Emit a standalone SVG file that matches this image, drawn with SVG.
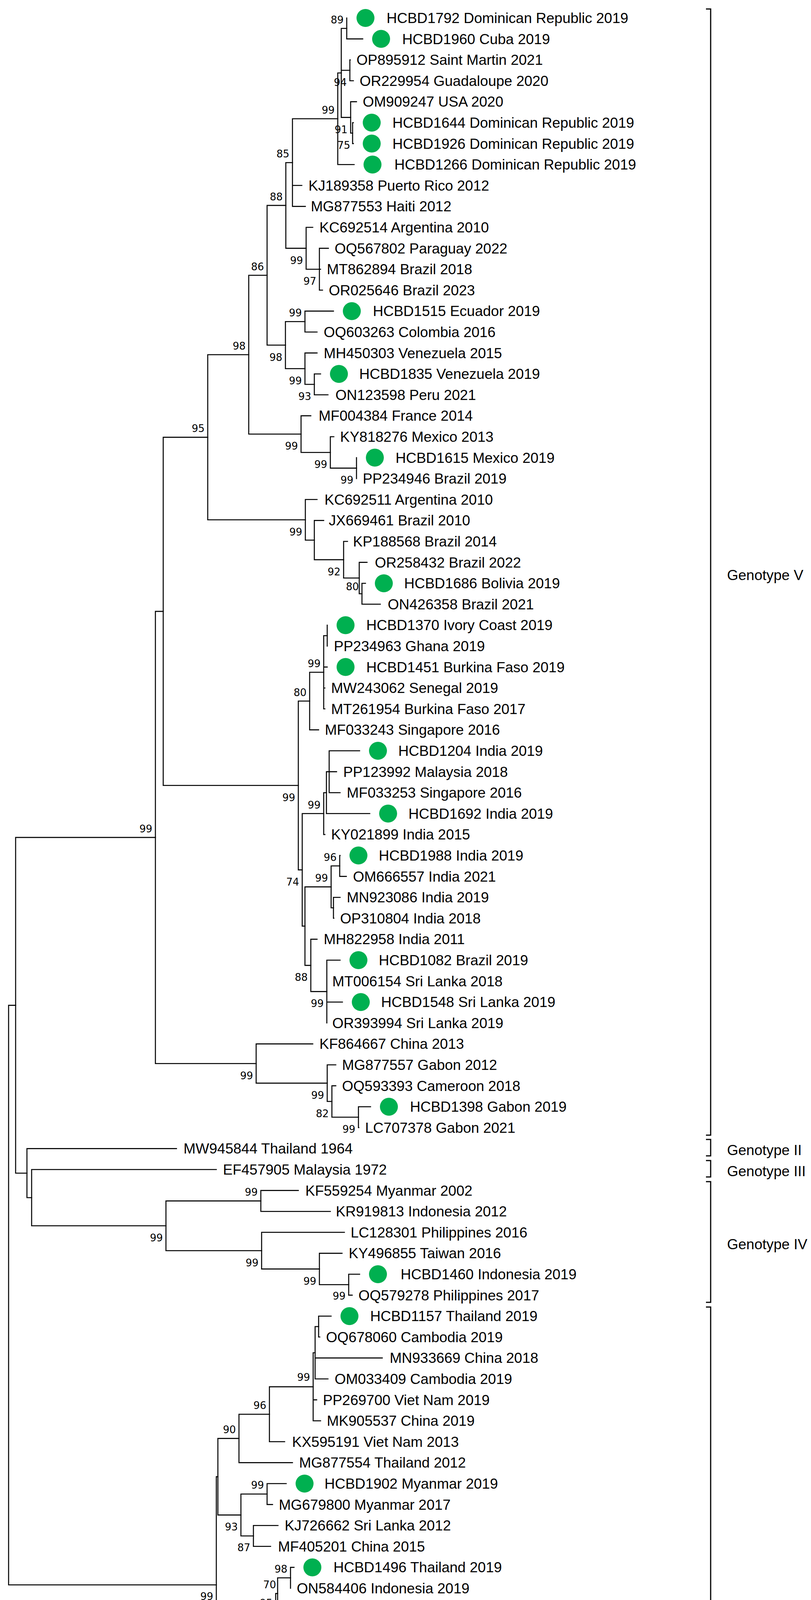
<svg xmlns="http://www.w3.org/2000/svg" width="2077" height="5150" viewBox="0 0 2077 5150">
<style>
.br{fill:none;stroke:#000;stroke-width:2.6;stroke-linecap:square}
.tl{font-family:"Liberation Sans",Arial,sans-serif;font-size:37px;fill:#000}
.bs{font-family:"DejaVu Sans",Verdana,sans-serif;font-size:26px;fill:#000;text-anchor:end}
.dot{fill:#00B050}
.bk{fill:none;stroke:#000;stroke-width:3}
</style>
<rect width="2077" height="5150" fill="#fff"/>
<g id="connectors" class="br">
<path d="M22 2573.6V4057.2M22 2573.6H40M22 4057.2H554"/>
<path d="M40 2143.9V3003.2M40 2143.9H398M40 3003.2H69"/>
<path d="M69 2940.4V3066M69 2940.4H452M69 3066H81"/>
<path d="M81 2994V3138M81 2994H554M81 3138H425"/>
<path d="M425 3074.4V3201.7M425 3074.4H668M425 3201.7H670"/>
<path d="M668 3047.6V3101.2M668 3047.6H764M668 3101.2H846"/>
<path d="M670 3154.8V3248.6M670 3154.8H882M670 3248.6H818"/>
<path d="M818 3208.4V3288.8M818 3208.4H876M818 3288.8H893"/>
<path d="M893 3262V3315.6M893 3262H921M893 3315.6H902"/>
<path d="M398 1565.1V2722.7M398 1565.1H418M398 2722.7H656"/>
<path d="M418 1119.4V2010.8M418 1119.4H532M418 2010.8H764"/>
<path d="M532 908V1330.7M532 908H637M532 1330.7H782"/>
<path d="M637 704.7V1111.3M637 704.7H684M637 1111.3H771"/>
<path d="M684 525.9V883.5M684 525.9H732M684 883.5H731"/>
<path d="M732 416.2V635.6M732 416.2H749M732 635.6H784"/>
<path d="M749 304V528.4M749 304H865M749 474.8H773M749 528.4H782"/>
<path d="M865 186.7V421.2M865 186.7H874M865 421.2H907"/>
<path d="M874 72.8V300.6M874 72.8H888M874 180H896M874 300.6H898"/>
<path d="M888 46V99.6M888 99.6H929"/>
<path d="M896 153.2V206.8M896 153.2H897M896 206.8H905"/>
<path d="M898 260.4V340.8M898 260.4H913M898 340.8H903"/>
<path d="M903 314V367.6M903 314H905M903 367.6H905"/>
<path d="M784 582V689.2M784 582H801M784 689.2H818"/>
<path d="M818 635.6V742.8M818 635.6H841M818 689.2H821M818 742.8H826"/>
<path d="M731 823.2V943.8M731 823.2H781M731 943.8H781"/>
<path d="M781 796.4V850M781 796.4H854M781 850H812"/>
<path d="M781 903.6V984M781 903.6H812M781 984H805"/>
<path d="M805 957.2V1010.8M805 957.2H821M805 1010.8H840"/>
<path d="M771 1064.4V1158.2M771 1064.4H796M771 1158.2H846"/>
<path d="M846 1118V1198.4M846 1118H855M846 1198.4H913"/>
<path d="M913 1171.6V1225.2"/>
<path d="M782 1278.8V1382.7M782 1278.8H812M782 1382.7H805"/>
<path d="M805 1332.4V1432.9M805 1332.4H829M805 1432.9H880"/>
<path d="M880 1386V1479.8M880 1386H890M880 1479.8H920"/>
<path d="M920 1439.6V1520M920 1439.6H940M920 1520H927"/>
<path d="M927 1493.2V1546.8M927 1493.2H936M927 1546.8H974"/>
<path d="M764 1794.7V2226.9M764 1794.7H793M764 2226.9H774"/>
<path d="M793 1721V1868.4M793 1721H829M793 1868.4H816"/>
<path d="M829 1627.2V1814.8M829 1627.2H838M829 1707.6H838M829 1761.2H832M829 1814.8H832"/>
<path d="M838 1600.4V1654"/>
<path d="M774 2082.8V2370.9M774 2082.8H829M774 2370.9H781"/>
<path d="M829 2029.2V2136.4M829 2029.2H836M829 2136.4H832"/>
<path d="M836 1975.6V2082.8M836 1975.6H843M836 2082.8H947"/>
<path d="M843 1922V2029.2M843 1922H921M843 1975.6H862M843 2029.2H871"/>
<path d="M781 2270.4V2471.4M781 2270.4H848M781 2471.4H796"/>
<path d="M848 2216.8V2324M848 2216.8H870M848 2324H854"/>
<path d="M870 2190V2243.6M870 2190H871M870 2243.6H887"/>
<path d="M854 2297.2V2350.8M854 2297.2H871M854 2350.8H855"/>
<path d="M796 2404.4V2538.4M796 2404.4H812M796 2538.4H837"/>
<path d="M837 2458V2618.8M837 2458H871M837 2565.2H877"/>
<path d="M656 2672.4V2772.9M656 2672.4H801M656 2772.9H838"/>
<path d="M838 2726V2819.8M838 2726H860M838 2819.8H850"/>
<path d="M850 2779.6V2860M850 2779.6H860M850 2860H918"/>
<path d="M918 2833.2V2886.8M918 2833.2H949M918 2886.8H919"/>
<path d="M554 3780.4V4334M554 3780.4H558M554 4334H676"/>
<path d="M558 3682.4V3878.4M558 3682.4H612M558 3878.4H617"/>
<path d="M612 3620.5V3744.4M612 3620.5H690M612 3744.4H749"/>
<path d="M690 3550.1V3690.8M690 3550.1H802M690 3690.8H729"/>
<path d="M802 3463V3637.2M802 3463H807M802 3583.6H811M802 3637.2H821"/>
<path d="M807 3396V3530M807 3396H816M807 3476.4H979M807 3530H840"/>
<path d="M816 3369.2V3422.8M816 3369.2H848M816 3422.8H819"/>
<path d="M617 3824.8V3932M617 3824.8H684M617 3932H649"/>
<path d="M684 3798V3851.6M684 3798H733M684 3851.6H698"/>
<path d="M649 3905.2V3958.8M649 3905.2H712M649 3958.8H693"/>
<path d="M676 4126.3V4541.7M676 4126.3H706M676 4541.7H718"/>
<path d="M706 4079.4V4173.2M706 4079.4H711M706 4173.2H715"/>
<path d="M711 4039.2V4119.6M711 4039.2H744M711 4119.6H729"/>
<path d="M744 4012.4V4066M744 4012.4H753"/>
<path d="M718 4394.3V4689.1M718 4394.3H727M718 4689.1H732"/>
<path d="M727 4293.8V4494.8M727 4293.8H732M727 4387.6H775M727 4494.8H744"/>
<path d="M732 4253.6V4334M732 4253.6H765M732 4334H733"/>
<path d="M765 4226.8V4280.4M765 4226.8H780M765 4280.4H780"/>
<path d="M732 4548.4V4829.8M732 4548.4H742M732 4602H733M732 4682.4H764M732 4829.8H793"/>
<path d="M764 4655.6V4709.2M764 4655.6H766M764 4709.2H782"/>
<path d="M793 4762.8V4896.8M793 4762.8H816M793 4816.4H798M793 4896.8H797"/>
<path d="M797 4870V4923.6M797 4870H798M797 4923.6H799"/>
</g>
<g id="tips">
<g id="t0"><circle class="dot" cx="936" cy="46" r="23"/><text class="tl" x="990" y="59">HCBD1792 Dominican Republic 2019</text></g>
<g id="t1"><circle class="dot" cx="976" cy="99.6" r="23"/><text class="tl" x="1030" y="112.6">HCBD1960 Cuba 2019</text></g>
<g id="t2"><text class="tl" x="913" y="166.2">OP895912 Saint Martin 2021</text></g>
<g id="t3"><text class="tl" x="921" y="219.8">OR229954 Guadaloupe 2020</text></g>
<g id="t4"><text class="tl" x="929" y="273.4">OM909247 USA 2020</text></g>
<g id="t5"><circle class="dot" cx="952" cy="314" r="23"/><text class="tl" x="1005" y="327">HCBD1644 Dominican Republic 2019</text></g>
<g id="t6"><circle class="dot" cx="952" cy="367.6" r="23"/><text class="tl" x="1005" y="380.6">HCBD1926 Dominican Republic 2019</text></g>
<g id="t7"><circle class="dot" cx="954" cy="421.2" r="23"/><text class="tl" x="1010" y="434.2">HCBD1266 Dominican Republic 2019</text></g>
<g id="t8"><text class="tl" x="790" y="487.8">KJ189358 Puerto Rico 2012</text></g>
<g id="t9"><text class="tl" x="796" y="541.4">MG877553 Haiti 2012</text></g>
<g id="t10"><text class="tl" x="818" y="595">KC692514 Argentina 2010</text></g>
<g id="t11"><text class="tl" x="857" y="648.6">OQ567802 Paraguay 2022</text></g>
<g id="t12"><text class="tl" x="837" y="702.2">MT862894 Brazil 2018</text></g>
<g id="t13"><text class="tl" x="842" y="755.8">OR025646 Brazil 2023</text></g>
<g id="t14"><circle class="dot" cx="901" cy="796.4" r="23"/><text class="tl" x="955" y="809.4">HCBD1515 Ecuador 2019</text></g>
<g id="t15"><text class="tl" x="829" y="863">OQ603263 Colombia 2016</text></g>
<g id="t16"><text class="tl" x="829" y="916.6">MH450303 Venezuela 2015</text></g>
<g id="t17"><circle class="dot" cx="868" cy="957.2" r="23"/><text class="tl" x="920" y="970.2">HCBD1835 Venezuela 2019</text></g>
<g id="t18"><text class="tl" x="859" y="1023.8">ON123598 Peru 2021</text></g>
<g id="t19"><text class="tl" x="816" y="1077.4">MF004384 France 2014</text></g>
<g id="t20"><text class="tl" x="871" y="1131">KY818276 Mexico 2013</text></g>
<g id="t21"><circle class="dot" cx="960" cy="1171.6" r="23"/><text class="tl" x="1013" y="1184.6">HCBD1615 Mexico 2019</text></g>
<g id="t22"><text class="tl" x="929" y="1238.2">PP234946 Brazil 2019</text></g>
<g id="t23"><text class="tl" x="831" y="1291.8">KC692511 Argentina 2010</text></g>
<g id="t24"><text class="tl" x="842" y="1345.4">JX669461 Brazil 2010</text></g>
<g id="t25"><text class="tl" x="904" y="1399">KP188568 Brazil 2014</text></g>
<g id="t26"><text class="tl" x="960" y="1452.6">OR258432 Brazil 2022</text></g>
<g id="t27"><circle class="dot" cx="983" cy="1493.2" r="23"/><text class="tl" x="1035" y="1506.2">HCBD1686 Bolivia 2019</text></g>
<g id="t28"><text class="tl" x="993" y="1559.8">ON426358 Brazil 2021</text></g>
<g id="t29"><circle class="dot" cx="885" cy="1600.4" r="23"/><text class="tl" x="938" y="1613.4">HCBD1370 Ivory Coast 2019</text></g>
<g id="t30"><text class="tl" x="855" y="1667">PP234963 Ghana 2019</text></g>
<g id="t31"><circle class="dot" cx="885" cy="1707.6" r="23"/><text class="tl" x="938" y="1720.6">HCBD1451 Burkina Faso 2019</text></g>
<g id="t32"><text class="tl" x="848" y="1774.2">MW243062 Senegal 2019</text></g>
<g id="t33"><text class="tl" x="848" y="1827.8">MT261954 Burkina Faso 2017</text></g>
<g id="t34"><text class="tl" x="832" y="1881.4">MF033243 Singapore 2016</text></g>
<g id="t35"><circle class="dot" cx="968" cy="1922" r="23"/><text class="tl" x="1020" y="1935">HCBD1204 India 2019</text></g>
<g id="t36"><text class="tl" x="879" y="1988.6">PP123992 Malaysia 2018</text></g>
<g id="t37"><text class="tl" x="888" y="2042.2">MF033253 Singapore 2016</text></g>
<g id="t38"><circle class="dot" cx="994" cy="2082.8" r="23"/><text class="tl" x="1046" y="2095.8">HCBD1692 India 2019</text></g>
<g id="t39"><text class="tl" x="848" y="2149.4">KY021899 India 2015</text></g>
<g id="t40"><circle class="dot" cx="918" cy="2190" r="23"/><text class="tl" x="970" y="2203">HCBD1988 India 2019</text></g>
<g id="t41"><text class="tl" x="904" y="2256.6">OM666557 India 2021</text></g>
<g id="t42"><text class="tl" x="888" y="2310.2">MN923086 India 2019</text></g>
<g id="t43"><text class="tl" x="871" y="2363.8">OP310804 India 2018</text></g>
<g id="t44"><text class="tl" x="829" y="2417.4">MH822958 India 2011</text></g>
<g id="t45"><circle class="dot" cx="918" cy="2458" r="23"/><text class="tl" x="970" y="2471">HCBD1082 Brazil 2019</text></g>
<g id="t46"><text class="tl" x="851" y="2524.6">MT006154 Sri Lanka 2018</text></g>
<g id="t47"><circle class="dot" cx="924" cy="2565.2" r="23"/><text class="tl" x="976" y="2578.2">HCBD1548 Sri Lanka 2019</text></g>
<g id="t48"><text class="tl" x="851" y="2631.8">OR393994 Sri Lanka 2019</text></g>
<g id="t49"><text class="tl" x="818" y="2685.4">KF864667 China 2013</text></g>
<g id="t50"><text class="tl" x="876" y="2739">MG877557 Gabon 2012</text></g>
<g id="t51"><text class="tl" x="876" y="2792.6">OQ593393 Cameroon 2018</text></g>
<g id="t52"><circle class="dot" cx="996" cy="2833.2" r="23"/><text class="tl" x="1050" y="2846.2">HCBD1398 Gabon 2019</text></g>
<g id="t53"><text class="tl" x="935" y="2899.8">LC707378 Gabon 2021</text></g>
<g id="t54"><text class="tl" x="470" y="2953.4">MW945844 Thailand 1964</text></g>
<g id="t55"><text class="tl" x="571" y="3007">EF457905 Malaysia 1972</text></g>
<g id="t56"><text class="tl" x="782" y="3060.6">KF559254 Myanmar 2002</text></g>
<g id="t57"><text class="tl" x="860" y="3114.2">KR919813 Indonesia 2012</text></g>
<g id="t58"><text class="tl" x="898" y="3167.8">LC128301 Philippines 2016</text></g>
<g id="t59"><text class="tl" x="893" y="3221.4">KY496855 Taiwan 2016</text></g>
<g id="t60"><circle class="dot" cx="968" cy="3262" r="23"/><text class="tl" x="1026" y="3275">HCBD1460 Indonesia 2019</text></g>
<g id="t61"><text class="tl" x="918" y="3328.6">OQ579278 Philippines 2017</text></g>
<g id="t62"><circle class="dot" cx="895" cy="3369.2" r="23"/><text class="tl" x="948" y="3382.2">HCBD1157 Thailand 2019</text></g>
<g id="t63"><text class="tl" x="835" y="3435.8">OQ678060 Cambodia 2019</text></g>
<g id="t64"><text class="tl" x="998" y="3489.4">MN933669 China 2018</text></g>
<g id="t65"><text class="tl" x="857" y="3543">OM033409 Cambodia 2019</text></g>
<g id="t66"><text class="tl" x="827" y="3596.6">PP269700 Viet Nam 2019</text></g>
<g id="t67"><text class="tl" x="837" y="3650.2">MK905537 China 2019</text></g>
<g id="t68"><text class="tl" x="748" y="3703.8">KX595191 Viet Nam 2013</text></g>
<g id="t69"><text class="tl" x="766" y="3757.4">MG877554 Thailand 2012</text></g>
<g id="t70"><circle class="dot" cx="780" cy="3798" r="23"/><text class="tl" x="831" y="3811">HCBD1902 Myanmar 2019</text></g>
<g id="t71"><text class="tl" x="714" y="3864.6">MG679800 Myanmar 2017</text></g>
<g id="t72"><text class="tl" x="729" y="3918.2">KJ726662 Sri Lanka 2012</text></g>
<g id="t73"><text class="tl" x="712" y="3971.8">MF405201 China 2015</text></g>
<g id="t74"><circle class="dot" cx="800" cy="4012.4" r="23"/><text class="tl" x="854" y="4025.4">HCBD1496 Thailand 2019</text></g>
<g id="t75"><text class="tl" x="760" y="4079">ON584406 Indonesia 2019</text></g>
<g id="t76"><text class="tl" x="745" y="4132.6">MF033260 Singapore 2016</text></g>
<g id="t77"><text class="tl" x="729" y="4186.2">MN886842 China 2017</text></g>
<g id="t78"><circle class="dot" cx="827" cy="4226.8" r="23"/><text class="tl" x="881" y="4239.8">HCBD1531 Thailand 2019</text></g>
<g id="t79"><circle class="dot" cx="827" cy="4280.4" r="23"/><text class="tl" x="881" y="4293.4">HCBD1539 Thailand 2019</text></g>
<g id="t80"><text class="tl" x="749" y="4347">MN955650 Thailand 2018</text></g>
<g id="t81"><circle class="dot" cx="822" cy="4387.6" r="23"/><text class="tl" x="876" y="4400.6">HCBD1561 SEAR+WPR 2019</text></g>
<g id="t82"><text class="tl" x="742" y="4454.2">MN894251 China 2019</text></g>
<g id="t83"><text class="tl" x="760" y="4507.8">PP124007 Malaysia 2019</text></g>
<g id="t84"><text class="tl" x="759" y="4561.4">MW559402 Laos 2019</text></g>
<g id="t85"><text class="tl" x="749" y="4615">PP123935 Malaysia 2016</text></g>
<g id="t86"><text class="tl" x="782" y="4668.6">MZ619037 Thailand 2019</text></g>
<g id="t87"><text class="tl" x="798" y="4722.2">OL411495 Cambodia 2020</text></g>
<g id="t88"><text class="tl" x="832" y="4775.8">MN921435 China 2019</text></g>
<g id="t89"><circle class="dot" cx="845" cy="4816.4" r="23"/><text class="tl" x="899" y="4829.4">HCBD1940 Thailand 2019</text></g>
<g id="t90"><circle class="dot" cx="845" cy="4870" r="23"/><text class="tl" x="899" y="4883">HCBD1111 Thailand 2019</text></g>
<g id="t91"><text class="tl" x="815" y="4936.6">PP234957 Thailand 2019</text></g>
</g>
<g id="bootstrap" class="bs">
<text x="880" y="60">89</text>
<text x="888" y="220">94</text>
<text x="857" y="291">99</text>
<text x="890" y="341">91</text>
<text x="897" y="381">75</text>
<text x="741" y="403">85</text>
<text x="724" y="513">88</text>
<text x="776" y="676">99</text>
<text x="810" y="729">97</text>
<text x="676" y="692">86</text>
<text x="773" y="810">99</text>
<text x="723" y="924">98</text>
<text x="773" y="984">99</text>
<text x="797" y="1024">93</text>
<text x="629" y="895">98</text>
<text x="763" y="1151">99</text>
<text x="838" y="1198">99</text>
<text x="905" y="1238">99</text>
<text x="524" y="1106">95</text>
<text x="774" y="1371">99</text>
<text x="872" y="1473">92</text>
<text x="919" y="1511">80</text>
<text x="821" y="1708">99</text>
<text x="785" y="1782">80</text>
<text x="756" y="2051">99</text>
<text x="821" y="2070">99</text>
<text x="766" y="2267">74</text>
<text x="862" y="2204">96</text>
<text x="840" y="2257">99</text>
<text x="788" y="2511">88</text>
<text x="829" y="2578">99</text>
<text x="648" y="2763">99</text>
<text x="830" y="2813">99</text>
<text x="842" y="2860">82</text>
<text x="910" y="2900">99</text>
<text x="390" y="2131">99</text>
<text x="417" y="3178">99</text>
<text x="660" y="3061">99</text>
<text x="662" y="3242">99</text>
<text x="810" y="3289">99</text>
<text x="885" y="3327">99</text>
<text x="546" y="4096">99</text>
<text x="604" y="3669">90</text>
<text x="682" y="3607">96</text>
<text x="794" y="3535">99</text>
<text x="676" y="3811">99</text>
<text x="609" y="3918">93</text>
<text x="641" y="3971">87</text>
<text x="736" y="4026">98</text>
<text x="707" y="4066">70</text>
<text x="698" y="4113">95</text>
<text x="668" y="4373">99</text>
<text x="757" y="4240">96</text>
<text x="710" y="4583">96</text>
<text x="756" y="4669">96</text>
<text x="724" y="4731">77</text>
<text x="785" y="4872">98</text>
<text x="793" y="4940">79</text>
</g>
<g id="genotypes">
<g id="gV"><path class="bk" d="M1808 23H1820V2906H1808"/><text class="tl" x="1862" y="1485">Genotype V</text></g>
<g id="gII"><path class="bk" d="M1808 2917H1820V2959H1808"/><text class="tl" x="1862" y="2957">Genotype II</text></g>
<g id="gIII"><path class="bk" d="M1808 2971H1820V3013H1808"/><text class="tl" x="1862" y="3011">Genotype III</text></g>
<g id="gIV"><path class="bk" d="M1808 3025H1820V3334H1808"/><text class="tl" x="1862" y="3198">Genotype IV</text></g>
<g id="gI"><path class="bk" d="M1808 3346H1820V4943H1808"/><text class="tl" x="1862" y="4163">Genotype I</text></g>
</g>
<g id="scale">
<path class="br" d="M53 5030H294M53 5019V5041M294 5019V5041"/>
<text x="186" y="5118" text-anchor="middle" style="font-family:'Liberation Sans',Arial,sans-serif;font-size:42px">0.020</text>
</g>
</svg>
